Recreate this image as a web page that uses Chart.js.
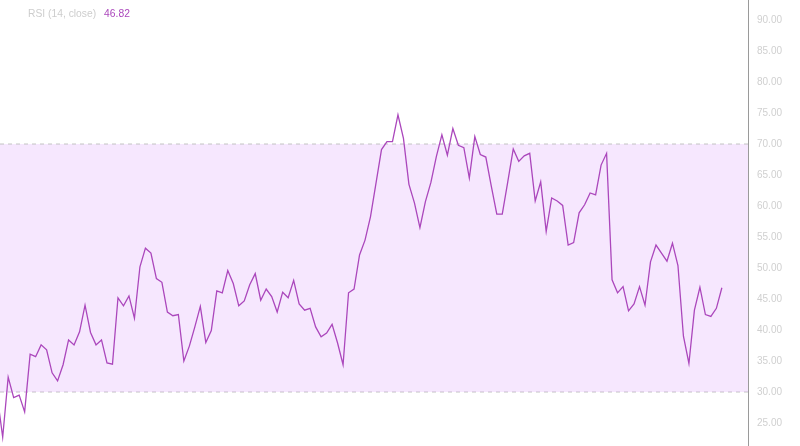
<!DOCTYPE html>
<html>
<head>
<meta charset="utf-8">
<script src="https://cdn.jsdelivr.net/npm/chart.js@4"></script>
<style>
  html, body { margin: 0; padding: 0; background: #fff; }
  #wrap { position: relative; width: 800px; height: 446px; }
  #legend {
    position: absolute; left: 28px; top: 8px;
    font: 10.3px "Liberation Sans", Arial, sans-serif;
    color: #cdcdcd; white-space: nowrap; pointer-events: none;
  }
  #legend .val { color: #ab47bc; margin-left: 8px; }
</style>
</head>
<body>
<div id="wrap">
  <canvas id="rsiChart" width="800" height="446"></canvas>
  <div id="legend">RSI (14, close)<span class="val" id="lastVal"></span></div>
</div>
<script>
// RSI values, one per bar (first one sits just left of the visible area)
const rsiValues = [
  29.4, 22.7, 32.4, 29.1, 29.5, 26.8, 36.1, 35.7, 37.6, 36.8,
  33.1, 31.8, 34.4, 38.4, 37.6, 39.7, 44.0, 39.6, 37.6, 38.4,
  34.7, 34.5, 45.2, 43.9, 45.5, 41.9, 50.2, 53.2, 52.4, 48.3,
  47.7, 42.9, 42.3, 42.5, 35.0, 37.4, 40.5, 43.8, 38.0, 39.9,
  46.3, 46.0, 49.6, 47.5, 43.9, 44.7, 47.3, 49.1, 44.8, 46.6,
  45.4, 42.9, 46.1, 45.2, 48.0, 44.2, 43.2, 43.5, 40.5, 38.9,
  39.5, 40.9, 37.9, 34.4, 46.0, 46.6, 52.1, 54.5, 58.3, 63.7,
  69.1, 70.4, 70.4, 74.7, 70.9, 63.5, 60.5, 56.5, 60.7, 63.8,
  68.0, 71.5, 68.2, 72.5, 69.8, 69.4, 64.5, 71.2, 68.3, 67.9,
  63.2, 58.7, 58.7, 63.9, 69.2, 67.2, 68.1, 68.5, 60.8, 63.9,
  55.9, 61.3, 60.8, 60.1, 53.7, 54.1, 58.9, 60.2, 62.1, 61.8,
  66.6, 68.5, 48.1, 46.0, 47.0, 43.1, 44.2, 47.0, 44.0, 51.0,
  53.7, 52.4, 51.1, 54.0, 50.4, 39.0, 34.6, 43.2, 46.9, 42.5,
  42.2, 43.5, 46.82
];
const upperBand = 70;
const lowerBand = 30;
const yTicks = [25, 30, 35, 40, 45, 50, 55, 60, 65, 70, 75, 80, 85, 90];

const xMin = 0.51;
const xMax = 136.76;

document.getElementById("lastVal").textContent = rsiValues[rsiValues.length - 1].toFixed(2);

const rsiPoints = rsiValues.map((v, i) => ({ x: i, y: v }));
const upperLine = [{ x: xMin, y: upperBand }, { x: xMax, y: upperBand }];
const lowerLine = [{ x: xMin, y: lowerBand }, { x: xMax, y: lowerBand }];

const ctx = document.getElementById("rsiChart").getContext("2d");
new Chart(ctx, {
  type: "line",
  data: {
    datasets: [
      {
        data: rsiPoints,
        borderColor: "#ab47bc",
        borderWidth: 1.3,
        pointRadius: 0,
        tension: 0,
        fill: false,
        order: 0
      },
      {
        data: upperLine,
        borderColor: "#c4c4c4",
        borderWidth: 1,
        borderDash: [4, 4],
        pointRadius: 0,
        fill: "+1",
        backgroundColor: "rgba(218, 160, 250, 0.25)",
        order: 1
      },
      {
        data: lowerLine,
        borderColor: "#c4c4c4",
        borderWidth: 1,
        borderDash: [4, 4],
        pointRadius: 0,
        fill: false,
        order: 1
      }
    ]
  },
  options: {
    responsive: false,
    animation: false,
    layout: { padding: 0 },
    plugins: {
      legend: { display: false },
      tooltip: { enabled: false }
    },
    scales: {
      x: {
        type: "linear",
        min: xMin,
        max: xMax,
        display: false
      },
      y: {
        position: "right",
        min: 21.29,
        max: 93.23,
        afterBuildTicks: (scale) => {
          scale.ticks = yTicks.map(v => ({ value: v }));
        },
        afterFit: (scale) => {
          // labels sit well inside the range, no need for edge padding
          scale.width = 52;
          scale.paddingTop = 0;
          scale.paddingBottom = 0;
        },
        grid: { display: false, drawTicks: false },
        border: { display: true, color: "#9a9a9a", width: 1 },
        ticks: {
          padding: 9,
          color: "#d0d0d0",
          font: { family: "'Liberation Sans', Arial, sans-serif", size: 10 },
          callback: (v) => Number(v).toFixed(2)
        }
      }
    }
  }
});
</script>
</body>
</html>
